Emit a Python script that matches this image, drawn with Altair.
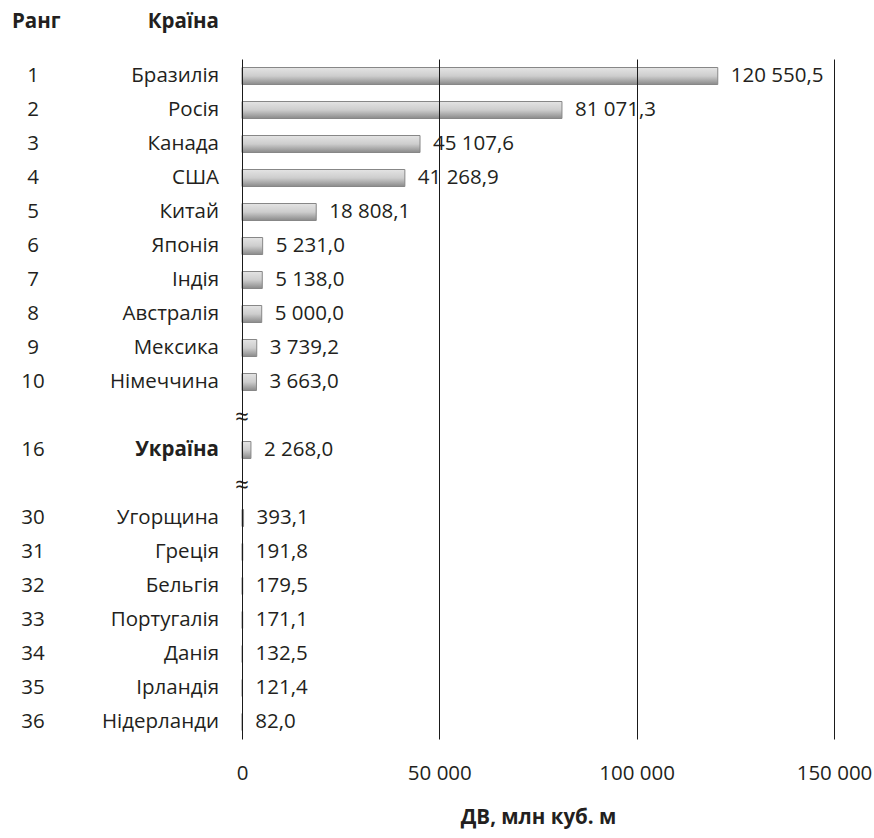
import altair as alt
import pandas as pd

# Countries ranked by volume; None marks a gap in the ranking
ranks = [1, 2, 3, 4, 5, 6, 7, 8, 9, 10, None, 16, None, 30, 31, 32, 33, 34, 35, 36]
countries = ["Бразилія", "Росія", "Канада", "США", "Китай", "Японія", "Індія",
             "Австралія", "Мексика", "Німеччина", None, "Україна", None,
             "Угорщина", "Греція", "Бельгія", "Португалія", "Данія", "Ірландія",
             "Нідерланди"]
values = [120550.5, 81071.3, 45107.6, 41268.9, 18808.1, 5231.0, 5138.0, 5000.0,
          3739.2, 3663.0, None, 2268.0, None, 393.1, 191.8, 179.5, 171.1, 132.5,
          121.4, 82.0]
x_ticks = [0, 50000, 100000, 150000]
highlight = "Україна"


def fmt(v):
    return f"{v:,.1f}".replace(",", " ").replace(".", ",")


rows = []
for i, (r, c, v) in enumerate(zip(ranks, countries, values)):
    rows.append({
        "row": i,
        "rank": "" if r is None else str(r),
        "country": "" if c is None else c,
        "value": v,
        "label": "" if v is None else fmt(v),
        "gap": "≈" if r is None else "",
        "bold": c == highlight,
    })
df = pd.DataFrame(rows)
order = list(range(len(rows)))

FONT = "Open Sans"
FS = 20.5
INK = "#231f20"

y_enc = alt.Y("row:O", sort=order, axis=None,
              scale=alt.Scale(paddingInner=0.5, paddingOuter=0.25))
x_scale = alt.Scale(domain=[0, 150000], nice=False)

base = alt.Chart(df)

bars = base.transform_filter("datum.value != null").mark_bar(
    color=alt.LinearGradient(
        gradient="linear", x1=0, y1=0, x2=0, y2=1,
        stops=[alt.GradientStop(color="#e4e4e4", offset=0),
               alt.GradientStop(color="#cdcdcd", offset=0.5),
               alt.GradientStop(color="#8a8a8a", offset=1)]),
    stroke="#878787", strokeWidth=1,
).encode(
    x=alt.X("value:Q", scale=x_scale,
            axis=alt.Axis(values=x_ticks, grid=True, gridColor="#1a1a1a",
                          gridWidth=1, domain=False, ticks=False,
                          labelExpr="replace(format(datum.value, ','), ',', ' ')",
                          labelFont=FONT, labelFontSize=FS, labelColor=INK,
                          labelPadding=24, labelFlush=False, labelBound=False,
                          labelOverlap=False, zindex=1,
                          title="ДВ, млн куб. м", titleFont=FONT,
                          titleFontSize=FS, titleFontWeight="bold",
                          titleColor=INK, titlePadding=24)),
    y=y_enc,
)

value_labels = base.transform_filter("datum.value != null").mark_text(
    align="left", baseline="middle", dx=13, font=FONT, fontSize=FS, color=INK,
).encode(x=alt.X("value:Q", scale=x_scale), y=y_enc, text="label:N")

rank_labels = base.mark_text(
    align="center", baseline="middle", font=FONT, fontSize=FS, color=INK,
).encode(x=alt.value(-209), y=y_enc, text="rank:N")

country_labels = base.transform_filter("!datum.bold").mark_text(
    align="right", baseline="middle", font=FONT, fontSize=FS, color=INK,
).encode(x=alt.value(-23), y=y_enc, text="country:N")

country_bold = base.transform_filter("datum.bold").mark_text(
    align="right", baseline="middle", font=FONT, fontSize=FS, color=INK,
    fontWeight="bold",
).encode(x=alt.value(-23), y=y_enc, text="country:N")

gap_marks = base.mark_text(
    align="center", baseline="middle", font=FONT, fontSize=24, color=INK, dy=2,
).encode(x=alt.value(0), y=y_enc, text="gap:N")

rank_head = alt.Chart(df).transform_filter("datum.row == 0").mark_text(
    align="left", baseline="middle", font=FONT, fontSize=FS, fontWeight="bold",
    color=INK, text="Ранг",
).encode(x=alt.value(-230), y=alt.value(-37))

country_head = alt.Chart(df).transform_filter("datum.row == 0").mark_text(
    align="right", baseline="middle", font=FONT, fontSize=FS, fontWeight="bold",
    color=INK, text="Країна",
).encode(x=alt.value(-23), y=alt.value(-37))

chart = alt.layer(bars, value_labels, rank_labels, country_labels, country_bold,
                  gap_marks, rank_head, country_head).properties(
    width=592, height=680,
    autosize=alt.AutoSizeParams(type="none"),
    padding={"left": 242, "top": 59, "right": 40, "bottom": 99},
).configure_view(stroke=None)

chart.save("out.html", embed_options={"renderer": "svg", "actions": False})
